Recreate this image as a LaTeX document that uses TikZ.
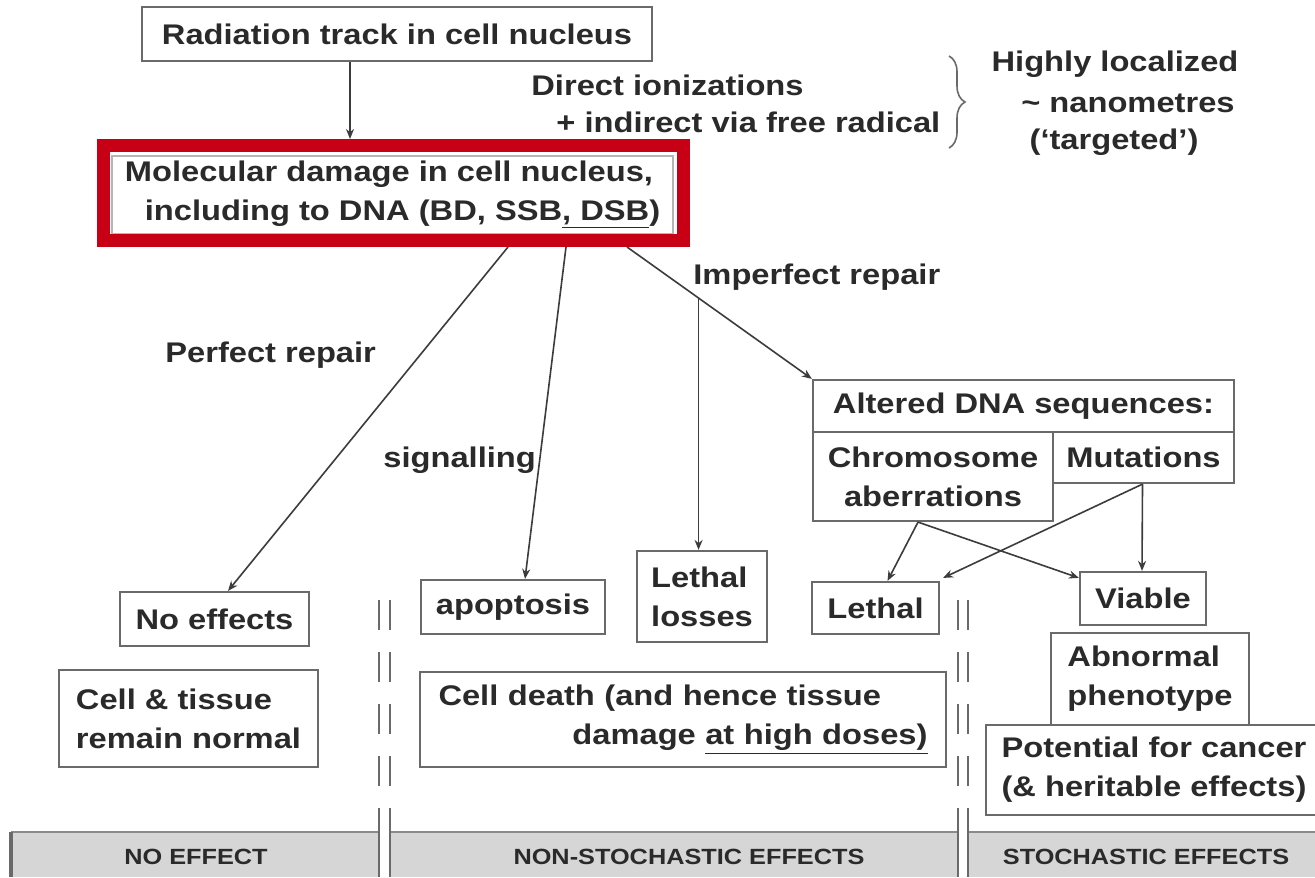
\documentclass[tikz,border=0pt]{standalone}
\usepackage{fontspec}
\setmainfont{Liberation Sans}[FakeStretch=1.15]
\usetikzlibrary{arrows.meta,calc,decorations.pathreplacing}
\definecolor{txt}{HTML}{2A2A2A}
\definecolor{boxgray}{HTML}{6A6A6A}
\definecolor{arrgray}{HTML}{3C3C3C}
\definecolor{redc}{RGB}{200,0,22}
\definecolor{bargray}{HTML}{D6D6D6}
\definecolor{barline}{HTML}{8A8A8A}
\tikzset{
  every node/.style={font=\fontsize{14.2pt}{19.5pt}\selectfont\bfseries, text=txt},
  box/.style={draw=boxgray, line width=1.1pt, inner sep=0pt, align=center},
  lbl/.style={inner sep=0pt},
  arr/.style={draw=arrgray, line width=0.8pt, -{Stealth[length=5pt,width=4pt]}},
  sepline/.style={draw=boxgray, line width=1pt},
  barlbl/.style={inner sep=0pt, font=\fontsize{11pt}{13pt}\selectfont\bfseries},
}
\begin{document}
\begin{tikzpicture}[x=0.5pt,y=-0.5pt]
\useasboundingbox (0,0) rectangle (1315,877);
\fill[white] (0,0) rectangle (1315,877);

% top
\node[box, minimum width=255pt, minimum height=27pt] (rad) at (397,34) {Radiation track in cell nucleus};
\node[box, draw=boxgray!50, line width=0.6pt, minimum width=280.5pt, minimum height=39pt, align=left] (mol) at (392.5,195)
  {Molecular damage in cell nucleus,\\\hspace*{10pt}including to DNA (BD, SSB\underline{, DSB})};
\node[draw=redc, line width=6.5pt, outer sep=3.25pt, minimum width=290pt, minimum height=47.5pt, inner sep=0pt] (frame) at (393.5,193) {};

\node[lbl, anchor=west] (dir1) at (531,85) {Direct ionizations};
\node[lbl, anchor=west] (dir2) at (556,122) {+ indirect via free radical};
\draw[draw=boxgray, line width=0.8pt, decorate, decoration={brace, amplitude=8pt}] (949,56) -- (949,148);
\node[lbl] (hl1) at (1115,64) {Highly localized};
\node[lbl, anchor=east] (hl2) at (1235,103) {\textasciitilde\ nanometres};
\node[lbl] (hl3) at (1114,142) {(‘targeted’)};

\draw[arr] (rad.south -| 350,0) -- (frame.north -| 350,0);

% middle boxes
\node[box, minimum width=94.5pt, minimum height=27pt] (noeff) at (214.5,619) {No effects};
\node[box, minimum width=129.5pt, minimum height=48.5pt, align=left] (cellt) at (188.5,718.5) {Cell \& tissue\\remain normal};
\node[box, minimum width=92pt, minimum height=27pt] (apop) at (513,607) {apoptosis};
\node[box, minimum width=65pt, minimum height=45.5pt, align=left] (loss) at (702,596.5) {Lethal\\losses};
\node[box, minimum width=63.5pt, minimum height=26pt] (leth) at (875.5,608) {Lethal};
\node[box, minimum width=263pt, minimum height=47.5pt, text width=244.5pt, align=left] (death) at (683,719.5)
  {Cell death (and hence tissue\\\hspace*{\fill}damage \underline{at high doses)}};

\node[box, minimum width=210.5pt, minimum height=26pt] (alt) at (1023.5,406) {Altered DNA sequences:};
\node[box, minimum width=120pt, minimum height=44.5pt] (chrom) at (933,476.5) {Chromosome\\aberrations};
\node[box, minimum width=90.5pt, minimum height=25.5pt] (mut) at (1143.5,457.5) {Mutations};
\node[box, minimum width=63pt, minimum height=26.5pt] (viab) at (1143,598.5) {Viable};
\node[box, minimum width=99pt, minimum height=46pt, align=left] (abn) at (1150,679) {Abnormal\\phenotype};
\node[box, minimum width=168pt, minimum height=45pt, align=left] (pot) at (1154,770) {Potential for cancer\\(\& heritable effects)};

% labels
\node[lbl, anchor=west] (implbl) at (693,277) {Imperfect repair};
\node[lbl, anchor=west] (perlbl) at (165,355) {Perfect repair};
\node[lbl, anchor=west] (siglbl) at (383,460) {signalling};

% connectors from molecular damage
\coordinate (ipa) at ($(frame.south)+(233.5,0)$);
\draw[arr] ($(frame.south)+(114.5,0)$) -- ($(noeff.north)+(13.5,0)$);
\draw[arr] ($(frame.south)+(172.5,0)$) -- ($(apop.north)+(12,0)$);
\draw[arr] (ipa) -- (alt.north west);
\coordinate (ipb) at ($(ipa)!0.387!(alt.north west)$);
\draw[arr] (ipb) -- (ipb |- loss.north);

% right cluster
\coordinate (cb) at ($(chrom.south)+(-15,0)$);
\draw[arr] (cb) -- ($(leth.north)+(12,0)$);
\draw[arr] (cb) -- ($(viab.north west)+(0,7)$);
\draw[arr] ($(mut.south)+(-1,0)$) -- ($(leth.north east)+(3,-3)$);
\draw[arr] ($(mut.south)+(-1,0)$) -- ($(viab.north)+(-1,0)$);

% bottom bar
\fill[bargray] (11,832) rectangle (379,877);
\fill[bargray] (390,832) rectangle (958,877);
\fill[bargray] (968,832) rectangle (1315,877);
\draw[barline, line width=1.2pt] (11,832) -- (379,832) (390,832) -- (958,832) (968,832) -- (1315,832);
\draw[boxgray, line width=2pt] (11,832) -- (11,877);
\node[barlbl] (b1) at (196,857) {NO EFFECT};
\node[barlbl] (b2) at (689,857) {NON-STOCHASTIC EFFECTS};
\node[barlbl] (b3) at (1146,857) {STOCHASTIC EFFECTS};

% separators
\foreach \sx in {379,390,958,968} {
  \draw[sepline, dash pattern=on 15pt off 11pt] (\sx,600) -- (\sx,832);
  \draw[sepline] (\sx,832) -- (\sx,877);
}
\end{tikzpicture}
\end{document}
